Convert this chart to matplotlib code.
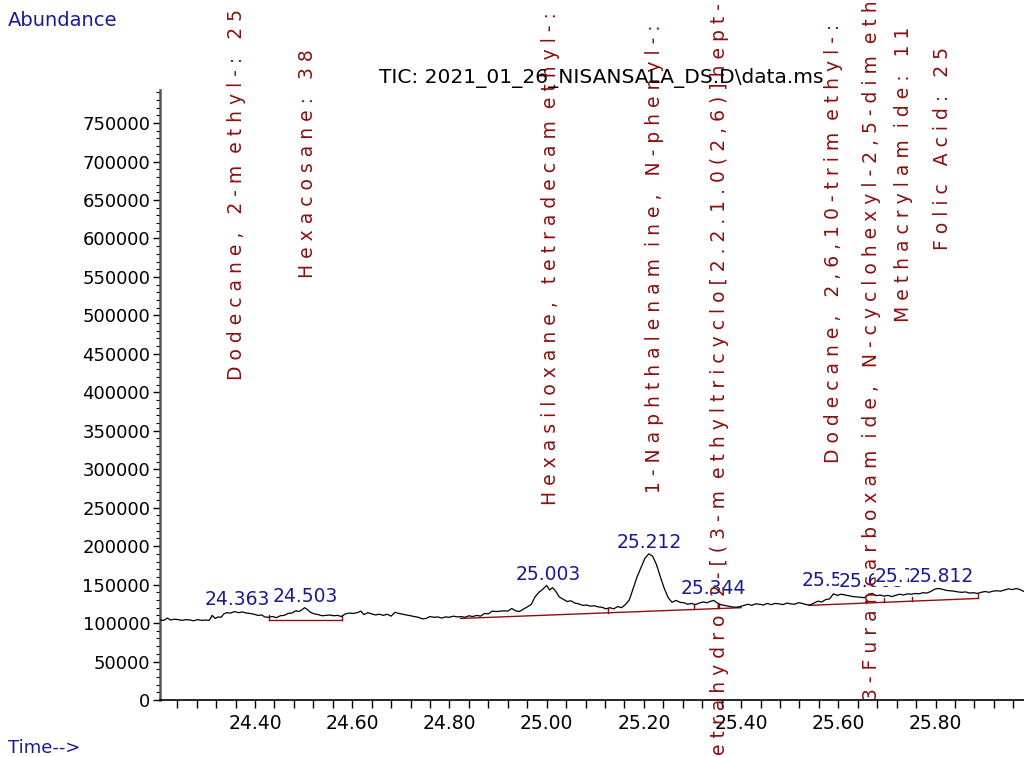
import numpy as np
import matplotlib
matplotlib.use("Agg")
import matplotlib.pyplot as plt
from matplotlib.ticker import MultipleLocator, FixedLocator

NAVY = "#1a1a96"
RED = "#8b1010"
FONT = "DejaVu Sans"

# -- chromatogram trace (retention time [min], abundance)
rt = [24.204, 24.212, 24.220, 24.226, 24.234, 24.242, 24.250, 24.258, 24.266, 24.274,
      24.282, 24.290, 24.298, 24.306, 24.312, 24.318, 24.324, 24.330, 24.336, 24.342,
      24.350, 24.358, 24.366, 24.374, 24.382, 24.390, 24.398, 24.406, 24.414, 24.420,
      24.428, 24.436, 24.444, 24.452, 24.460, 24.468, 24.476, 24.484, 24.490, 24.496,
      24.502, 24.508, 24.514, 24.522, 24.530, 24.538, 24.546, 24.554, 24.562, 24.570,
      24.578, 24.586, 24.594, 24.602, 24.610, 24.618, 24.624, 24.632, 24.640, 24.648,
      24.656, 24.664, 24.672, 24.680, 24.688, 24.696, 24.704, 24.712, 24.720, 24.728,
      24.736, 24.744, 24.752, 24.760, 24.768, 24.776, 24.784, 24.792, 24.800, 24.808,
      24.816, 24.824, 24.832, 24.840, 24.848, 24.856, 24.864, 24.872, 24.880, 24.888,
      24.896, 24.904, 24.912, 24.920, 24.928, 24.936, 24.944, 24.952, 24.960, 24.968,
      24.976, 24.984, 24.992, 25.000, 25.006, 25.012, 25.018, 25.026, 25.034, 25.042,
      25.050, 25.058, 25.066, 25.074, 25.082, 25.090, 25.098, 25.106, 25.114, 25.122,
      25.130, 25.138, 25.146, 25.154, 25.162, 25.170, 25.178, 25.186, 25.194, 25.202,
      25.210, 25.218, 25.226, 25.234, 25.242, 25.250, 25.258, 25.266, 25.274, 25.282,
      25.290, 25.298, 25.306, 25.314, 25.322, 25.330, 25.338, 25.344, 25.350, 25.358,
      25.366, 25.374, 25.382, 25.390, 25.398, 25.406, 25.414, 25.422, 25.430, 25.438,
      25.446, 25.454, 25.462, 25.470, 25.478, 25.486, 25.494, 25.502, 25.510, 25.518,
      25.526, 25.534, 25.542, 25.550, 25.558, 25.566, 25.574, 25.582, 25.590, 25.598,
      25.606, 25.614, 25.622, 25.630, 25.638, 25.646, 25.654, 25.662, 25.670, 25.678,
      25.686, 25.694, 25.702, 25.710, 25.718, 25.726, 25.734, 25.742, 25.750, 25.758,
      25.766, 25.774, 25.782, 25.790, 25.798, 25.806, 25.814, 25.822, 25.830, 25.838,
      25.846, 25.854, 25.862, 25.870, 25.878, 25.886, 25.894, 25.902, 25.910, 25.918,
      25.926, 25.934, 25.942, 25.950, 25.958, 25.966, 25.974, 25.982, 25.990]
abundance = [104000, 103500, 106500, 104000, 105000, 104500, 103500, 104500, 104000, 103000,
             104500, 103500, 104000, 103500, 110000, 106000, 108000, 107500, 112000, 113500,
             113000, 115000, 113500, 114500, 113000, 112500, 111500, 110000, 110500, 108000,
             107500, 108500, 107000, 109500, 110000, 112500, 113000, 116000, 115000, 117000,
             120000, 117500, 114000, 112000, 111000, 109500, 110000, 110500, 109500, 110000,
             108500, 112000, 113000, 112500, 113500, 115500, 111000, 113500, 112000, 110500,
             111500, 110000, 111500, 109000, 114000, 112500, 111500, 110500, 109500, 108500,
             107500, 105500, 106000, 108500, 107500, 108000, 106500, 108000, 107500, 109000,
             108000, 108500, 107500, 109500, 108500, 110000, 109000, 112500, 112000, 115500,
             115000, 115500, 116000, 115500, 119000, 116000, 115000, 118000, 121000, 124000,
             134000, 140000, 144000, 149000, 143000, 146000, 142000, 134000, 131000, 128000,
             129000, 126000, 125000, 123000, 123500, 122000, 122500, 121000, 120500, 118500,
             120000, 118500, 121500, 120000, 124000, 130000, 145000, 160000, 172000, 184000,
             190000, 187000, 176000, 160000, 145000, 133000, 127000, 129500, 127000, 126500,
             124500, 125500, 124000, 126000, 127500, 126500, 128500, 129500, 126500, 124000,
             123000, 122000, 121000, 120500, 121500, 123000, 124500, 123000, 125000, 124500,
             123500, 125500, 124000, 125500, 125000, 124000, 126000, 125000, 124500, 126500,
             125500, 124000, 123500, 126000, 128500, 127500, 130500, 131500, 138000, 136000,
             137500, 136500, 135500, 134500, 134000, 133500, 133000, 137500, 138500, 135500,
             136500, 135000, 136000, 134500, 136000, 137500, 136500, 138000, 137500, 138500,
             138000, 139500, 139000, 141000, 144000, 145000, 144000, 142500, 142000, 141500,
             140500, 140000, 140500, 139000, 139500, 138500, 140000, 141000, 140000, 141500,
             142000, 141500, 143000, 144500, 143500, 145000, 143500, 141000, 142000]

# -- integration baselines (start rt, start value, end rt, end value)
base_t0 = [24.429, 24.823, 25.540]
base_v0 = [104500, 106000, 123000]
base_t1 = [24.579, 25.400, 25.887]
base_v1 = [104500, 120000, 132000]

# -- peak split markers on the baselines
split_rt = [24.429, 24.579, 25.126, 25.303, 25.355, 25.656, 25.695, 25.751, 25.887]
split_val = [104500, 104500, 113500, 118000, 119500, 126000, 127000, 128500, 132000]

# -- peak apex labels
peak_rt = [24.363, 24.503, 25.003, 25.212, 25.344, 25.592, 25.668, 25.741, 25.812]
peak_text = ["24.363", "24.503", "25.003", "25.212", "25.344", "25.592", "25.668", "25.741", "25.812"]
peak_label_y = [123000, 128000, 156000, 197000, 138000, 148000, 147000, 154000, 154000]

# -- library hit names (drawn vertically)
hit_rt = [24.363, 24.509, 25.007, 25.221, 25.355, 25.591, 25.669, 25.735, 25.815]
hit_name = ["Dodecane, 2-methyl-: 25",
            "Hexacosane: 38",
            "Hexasiloxane, tetradecamethyl-:",
            "1-Naphthalenamine, N-phenyl-:",
            "etrahydro-2-[(3-methyltricyclo[2.2.1.0(2,6)]hept-3",
            "Dodecane, 2,6,10-trimethyl-:",
            "3-Furancarboxamide, N-cyclohexyl-2,5-dimethyl-",
            "Methacrylamide: 11",
            "Folic Acid: 25"]
hit_start = [416000, 549000, 254000, 269000, -71500, 308000, 0, 492000, 585000]

yticks = list(range(0, 800000, 50000))
xticks = [24.40, 24.60, 24.80, 25.00, 25.20, 25.40, 25.60, 25.80]


def spaced(name):
    # the instrument software prints each glyph on its own pitch
    out = []
    for ch in name:
        out.append(ch)
        out.append("  " if ch == "m" else " ")
    return "".join(out).rstrip()


fig = plt.figure(figsize=(10.24, 7.57), dpi=100)
ax = fig.add_axes([0.15625, 0.0753, 0.84375, 0.8058])

ax.plot(rt, abundance, color="black", linewidth=0.9, zorder=3)

for t0, v0, t1, v1 in zip(base_t0, base_v0, base_t1, base_v1):
    ax.plot([t0, t1], [v0, v1], color=RED, linewidth=1.0, zorder=2)
for t, v in zip(split_rt, split_val):
    ax.plot([t, t], [v, v + 5500], color=RED, linewidth=1.0, zorder=2)

for t, s, y in zip(peak_rt, peak_text, peak_label_y):
    ax.text(t, y, s, ha="center", va="baseline", color=NAVY, fontsize=13.5,
            family=FONT, zorder=4,
            bbox=dict(facecolor="white", edgecolor="none", pad=0))

for t, name, y in zip(hit_rt, hit_name, hit_start):
    ax.text(t, y, spaced(name), rotation=90, rotation_mode="anchor",
            ha="left", va="center", color=RED, fontsize=13.5, family=FONT,
            clip_on=False, zorder=6)

ax.set_xlim(24.2046, 25.982)
ax.set_ylim(0, 793000)

ax.xaxis.set_major_locator(FixedLocator(xticks))
ax.xaxis.set_minor_locator(MultipleLocator(0.04))
ax.set_xticklabels([f"{x:.2f}" for x in xticks])
ax.yaxis.set_major_locator(FixedLocator(yticks))
ax.yaxis.set_minor_locator(MultipleLocator(10000))
ax.set_yticklabels([str(y) for y in yticks])

ax.tick_params(axis="x", which="both", direction="out", length=6, width=1.0, pad=4,
               labelsize=13.5)
ax.tick_params(axis="y", which="major", direction="out", length=5, width=1.0, pad=2,
               labelsize=13)
ax.tick_params(axis="y", which="minor", direction="out", length=3, width=0.8)
for lab in ax.get_xticklabels() + ax.get_yticklabels():
    lab.set_family(FONT)

for side in ["top", "right"]:
    ax.spines[side].set_visible(False)
ax.spines["left"].set_color("#555555")
ax.spines["left"].set_linewidth(1.8)
ax.spines["bottom"].set_linewidth(1.2)

fig.text(601 / 1024, 1 - 78 / 757, "TIC: 2021_01_26_NISANSALA_DS.D\\data.ms",
         ha="center", va="center", fontsize=14.5, family=FONT, color="black")
fig.text(8 / 1024, 1 - 20 / 757, "Abundance", ha="left", va="center",
         fontsize=14, family=FONT, color=NAVY)
fig.text(8 / 1024, 1 - 748 / 757, "Time-->", ha="left", va="center",
         fontsize=13, family=FONT, color=NAVY)

fig.savefig("out.png", dpi=100)
